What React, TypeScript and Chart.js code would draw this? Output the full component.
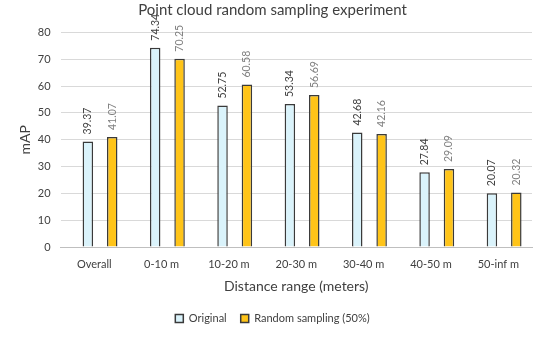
import React, { useEffect, useRef } from "react";
import { Chart, registerables } from "chart.js";

Chart.register(...registerables);

const categories = ["Overall", "0-10 m", "10-20 m", "20-30 m", "30-40 m", "40-50 m", "50-inf m"];
const originalValues = [39.37, 74.34, 52.75, 53.34, 42.68, 27.84, 20.07];
const sampledValues = [41.07, 70.25, 60.58, 56.69, 42.16, 29.09, 20.32];
const yTicks = [0, 10, 20, 30, 40, 50, 60, 70, 80];
const seriesNames = ["Original", "Random sampling (50%)"];

const FONT = "Lato, 'Open Sans', sans-serif";

const valueLabels = {
  id: "valueLabels",
  afterDatasetsDraw(chart: any) {
    const ctx = chart.ctx;
    const colors = ["#404040", "#808080"];
    chart.data.datasets.forEach((ds: any, di: number) => {
      const meta = chart.getDatasetMeta(di);
      meta.data.forEach((el: any, i: number) => {
        const v = ds.data[i];
        ctx.save();
        ctx.translate(el.x, el.y - 7);
        ctx.rotate(-Math.PI / 2);
        ctx.font = `10.5px ${FONT}`;
        ctx.fillStyle = colors[di];
        ctx.textAlign = "left";
        ctx.textBaseline = "middle";
        ctx.fillText(v.toFixed(2), 0, 0);
        ctx.restore();
      });
    });
  },
};

export default function App() {
  const ref = useRef<HTMLCanvasElement | null>(null);
  useEffect(() => {
    if (!ref.current) return;
    const chart = new Chart(ref.current, {
      type: "bar",
      data: {
        labels: categories,
        datasets: [
          {
            label: seriesNames[0],
            data: originalValues,
            backgroundColor: "#DAF3FB",
            borderColor: "#3A3A3A",
            borderWidth: 1.5,
            categoryPercentage: 0.38,
            barPercentage: 0.82,
          },
          {
            label: seriesNames[1],
            data: sampledValues,
            backgroundColor: "#FFC418",
            borderColor: "#3A3A3A",
            borderWidth: 1.5,
            categoryPercentage: 1.068,
            barPercentage: 0.292,
          },
        ],
      },
      options: {
        responsive: false,
        animation: false,
        devicePixelRatio: 1,
        layout: { padding: { left: 13, right: 2, top: 0, bottom: 22 } },
        plugins: {
          title: {
            display: true,
            text: "Point cloud random sampling experiment",
            color: "#404040",
            font: { family: FONT, size: 15, weight: "normal" },
            padding: { top: 1, bottom: 13.5 },
          },
          legend: {
            position: "bottom",
            labels: {
              color: "#404040",
              font: { family: FONT, size: 11 },
              boxWidth: 8,
              boxHeight: 8,
              padding: 14,
            },
          },
          tooltip: { enabled: false },
        },
        scales: {
          x: {
            grid: { display: false, drawTicks: false },
            border: { color: "#BFBFBF", width: 1 },
            ticks: {
              color: "#404040",
              font: { family: FONT, size: 11 },
              padding: 10.5,
              maxRotation: 0,
              autoSkip: false,
            },
            title: {
              display: true,
              text: "Distance range (meters)",
              color: "#404040",
              font: { family: FONT, size: 14 },
              padding: { top: -3, bottom: 4 },
            },
          },
          y: {
            min: 0,
            max: 80,
            afterBuildTicks: (axis: any) => {
              axis.ticks = yTicks.map((v) => ({ value: v }));
            },
            grid: { color: "#D9D9D9", drawTicks: false },
            border: { display: false },
            ticks: {
              color: "#404040",
              font: { family: FONT, size: 11 },
              padding: 10,
            },
            title: {
              display: true,
              text: "mAP",
              color: "#404040",
              font: { family: FONT, size: 14 },
              padding: { top: 4, bottom: -6 },
            },
          },
        },
      },
      plugins: [valueLabels],
    } as any);
    return () => chart.destroy();
  }, []);
  return (
    <div style={{ position: "absolute", left: 0, top: 0, width: 534, height: 356, background: "#fff" }}>
      <canvas ref={ref} width={534} height={356} style={{ display: "block" }} />
    </div>
  );
}
